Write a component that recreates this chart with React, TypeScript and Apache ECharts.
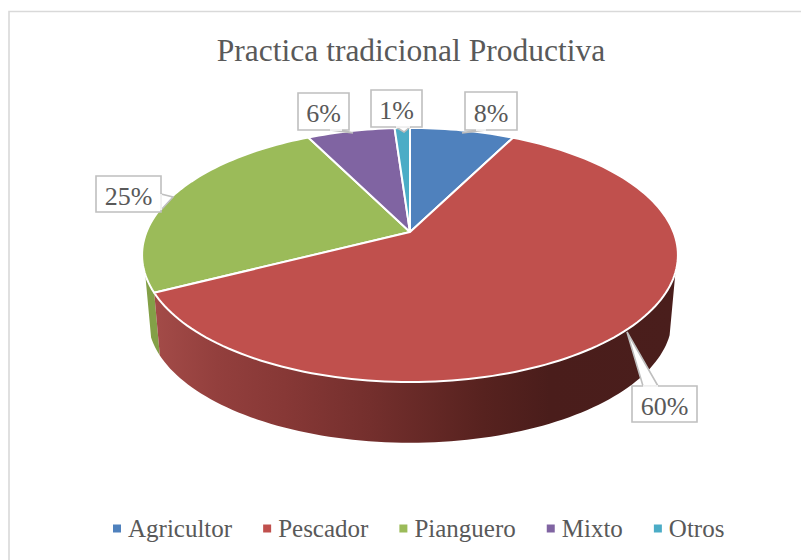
import React, { useEffect, useRef } from "react";
import * as echarts from "echarts";

const titleText = "Practica tradicional Productiva";
const categories = ["Agricultor", "Pescador", "Pianguero", "Mixto", "Otros"];
const shares = [7.5, 60, 25.1, 6.3, 1.1];
const colors = ["#4F81BD", "#C0504D", "#9BBB59", "#8064A2", "#4BACC6"];

// Pie projection on the page: perspective of a flat disc.
const TOP = { cx: 410, cy: 232, r: 263.5, q: 122.9 };
const BOTTOM = { cx: 410, cy: 296, r: 257.7, q: 120.2 };
const P = 0.181;
const WALL_RIGHT = 108;
const WALL_LEFT = 251;

// Callouts: box x, y, w, h and the pointer polygon
const callouts = [
  { box: [465, 92, 52, 38], tail: [[476, 130], [462, 133], [486, 130]] },
  { box: [632, 386, 65, 36], tail: [[643, 386], [627, 332], [658, 386]] },
  { box: [96, 176, 65, 36], tail: [[161, 194], [173, 197], [161, 210]] },
  { box: [298, 93, 51, 37], tail: [[330, 130], [353, 133], [342, 130]] },
  { box: [371, 90, 51, 37], tail: [[396, 127], [404, 132], [410, 127]] },
];

function project(d: typeof TOP, deg: number): number[] {
  const t = (deg * Math.PI) / 180;
  const u = Math.sin(t);
  const v = Math.cos(t);
  const den = 1 + P * v;
  return [d.cx + (d.r * u) / den, d.cy - (d.q * v) / den];
}

function arc(d: typeof TOP, a: number, b: number): number[][] {
  const n = Math.max(2, Math.ceil(Math.abs(b - a) / 1.5));
  const out: number[][] = [];
  for (let i = 0; i <= n; i++) out.push(project(d, a + ((b - a) * i) / n));
  return out;
}

const startOf = (i: number) => (shares.slice(0, i).reduce((s, x) => s + x, 0) / 100) * 360;

function wallFill(i: number) {
  if (i === 1) {
    return new echarts.graphic.LinearGradient(155, 0, 672, 0, [
      { offset: 0, color: "#A34B48" },
      { offset: 0.12, color: "#933F3D" },
      { offset: 0.25, color: "#873836" },
      { offset: 0.416, color: "#742F2D" },
      { offset: 0.634, color: "#57221F" },
      { offset: 0.764, color: "#4A1D1B" },
      { offset: 1, color: "#4A1E1C" },
    ], true);
  }
  return "#83A047";
}

function makeRender(i: number) {
  return (_params: any, api: any) => {
    const value = api.value(0) as number;
    const a = startOf(i);
    const b = a + (value / 100) * 360;
    const children: any[] = [];
    const wa = Math.max(a, WALL_RIGHT);
    const wb = Math.min(b, WALL_LEFT);
    if (wb > wa) {
      children.push({
        type: "polygon",
        shape: { points: [...arc(TOP, wa, wb), ...arc(BOTTOM, wb, wa)] },
        style: { fill: wallFill(i), stroke: null },
      });
    }
    children.push({
      type: "polygon",
      shape: { points: [[TOP.cx, TOP.cy], ...arc(TOP, a, b)] },
      style: { fill: colors[i], stroke: "#FFFFFF", lineWidth: 2, lineJoin: "round" },
    });
    const c = callouts[i];
    const [x, y, w, h] = c.box;
    children.push({
      type: "polygon",
      z2: 10,
      shape: { points: c.tail },
      style: { fill: "#FFFFFF", stroke: "#BFBFBF", lineWidth: 1.6 },
    });
    children.push({
      type: "rect",
      z2: 11,
      shape: { x, y, width: w, height: h },
      style: { fill: "#FFFFFF", stroke: "#BFBFBF", lineWidth: 1.6 },
    });
    children.push({
      type: "polygon",
      z2: 12,
      shape: { points: [c.tail[0], c.tail[2], [(c.tail[0][0] + c.tail[2][0]) / 2, (c.tail[0][1] + c.tail[2][1]) / 2]] },
      style: { fill: "#FFFFFF", stroke: "#FFFFFF", lineWidth: 1 },
    });
    children.push({
      type: "text",
      z2: 13,
      style: {
        x: x + w / 2,
        y: y + h / 2 + 2,
        text: `${Math.round(value)}%`,
        fill: "#595959",
        font: "26px 'Liberation Serif'",
        align: "center",
        verticalAlign: "middle",
      },
    });
    return { type: "group", children };
  };
}

export default function App() {
  const ref = useRef<HTMLDivElement>(null);
  useEffect(() => {
    const chart = echarts.init(ref.current!, undefined, { renderer: "svg" });
    chart.setOption({
      animation: false,
      backgroundColor: "#FFFFFF",
      title: {
        text: titleText,
        left: 406,
        top: 29,
        textAlign: "center",
        textStyle: { color: "#595959", fontFamily: "Liberation Serif", fontSize: 31.5, fontWeight: "normal" },
      },
      legend: {
        data: categories,
        left: 108,
        top: 511,
        icon: "rect",
        itemWidth: 8,
        itemHeight: 8,
        itemGap: 31,
        selectedMode: false,
        textStyle: { color: "#595959", fontFamily: "Liberation Serif", fontSize: 25, padding: [0, 0, 0, 2] },
      },
      graphic: [
        {
          type: "polyline",
          silent: true,
          shape: { points: [[9, 560], [9, 11.5], [801, 11.5]] },
          style: { stroke: "#D9D9D9", fill: null, lineWidth: 1.6 },
        },
      ],
      series: categories.map((name, i) => ({
        type: "custom",
        name,
        coordinateSystem: "none",
        data: [[shares[i]]],
        itemStyle: { color: colors[i] },
        renderItem: makeRender(i),
        z: i === 1 ? 3 : 2,
      })),
    });
    return () => chart.dispose();
  }, []);
  return <div ref={ref} style={{ position: "absolute", left: 0, top: 0, width: 801, height: 560 }} />;
}
